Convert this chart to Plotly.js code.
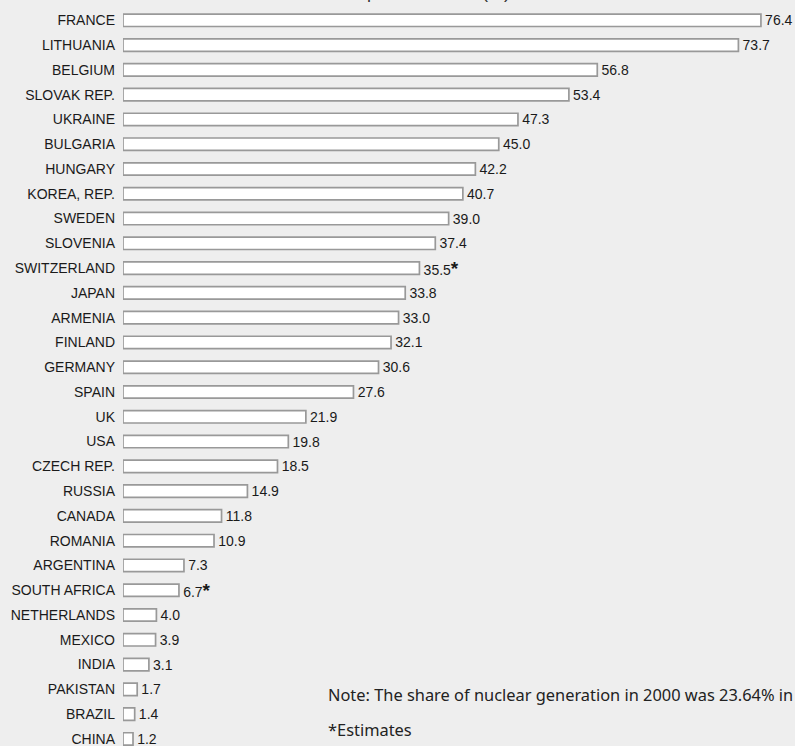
<!DOCTYPE html>
<html>
<head>
<meta charset="utf-8">
<script src="https://cdn.plot.ly/plotly-3.0.1.min.js"></script>
<style>
  html, body { margin: 0; padding: 0; background: #eeeeee; }
  #chart { width: 795px; height: 746px; }
</style>
</head>
<body>
<div id="chart"></div>
<script>
// Nuclear share of electricity generation by country, 2000
const countries = [
  "FRANCE", "LITHUANIA", "BELGIUM", "SLOVAK REP.", "UKRAINE", "BULGARIA",
  "HUNGARY", "KOREA, REP.", "SWEDEN", "SLOVENIA", "SWITZERLAND", "JAPAN",
  "ARMENIA", "FINLAND", "GERMANY", "SPAIN", "UK", "USA", "CZECH REP.",
  "RUSSIA", "CANADA", "ROMANIA", "ARGENTINA", "SOUTH AFRICA", "NETHERLANDS",
  "MEXICO", "INDIA", "PAKISTAN", "BRAZIL", "CHINA"
];
const nuclearShare = [
  76.4, 73.7, 56.8, 53.4, 47.3, 45.0,
  42.2, 40.7, 39.0, 37.4, 35.5, 33.8,
  33.0, 32.1, 30.6, 27.6, 21.9, 19.8, 18.5,
  14.9, 11.8, 10.9, 7.3, 6.7, 4.0,
  3.9, 3.1, 1.7, 1.4, 1.2
];
// Countries whose figure is an estimate
const estimated = ["SWITZERLAND", "SOUTH AFRICA"];

const titleText = "Nuclear share \u2014 percent share (%)";
const noteText = "Note: The share of nuclear generation in 2000 was 23.64% in";
const estimateText = "*Estimates";

const W = 795, H = 746;
const left = 123;
const rowPx = 24.78;         // vertical spacing between bars
const pxPerUnit = 8.35;      // horizontal scale
const firstRowCenter = 20.3; // pixel centre of the first bar

const sansFont = "'Liberation Sans', Arial, sans-serif";
const noteFont = "'Noto Sans', 'Open Sans', sans-serif";

const labels = nuclearShare.map((v, i) =>
  "\u200A" + v.toFixed(1) + (estimated.includes(countries[i])
    ? "<b><span style='font-size:19px'>*</span></b>" : ""));

const trace = {
  type: "bar",
  orientation: "h",
  y: countries,
  x: nuclearShare,
  text: labels,
  textposition: "outside",
  cliponaxis: false,
  constraintext: "none",
  textfont: { family: sansFont, size: 14, color: "#1a1a1a" },
  marker: { color: "#ffffff", line: { color: "#999999", width: 1.7 } },
  hoverinfo: "none"
};

const yTop = -firstRowCenter / rowPx;
const yBottom = yTop + H / rowPx;

const layout = {
  width: W,
  height: H,
  margin: { l: left, r: 0, t: 0, b: 0, pad: 0 },
  paper_bgcolor: "#eeeeee",
  plot_bgcolor: "#eeeeee",
  showlegend: false,
  bargap: 0.5,
  xaxis: {
    range: [0, (W - left) / pxPerUnit],
    showgrid: false, zeroline: false, showline: false,
    showticklabels: false, ticks: "", fixedrange: true
  },
  yaxis: {
    type: "category",
    range: [yBottom, yTop],
    showgrid: false, zeroline: false, showline: false,
    ticks: "",
    ticklabelstandoff: 7,
    tickfont: { family: sansFont, size: 14, color: "#1a1a1a" },
    fixedrange: true
  },
  annotations: [
    {
      text: titleText,
      xref: "paper", yref: "paper",
      x: (512 - left) / (W - left), xanchor: "right",
      y: 1 - 4.5 / H, yanchor: "bottom",
      showarrow: false,
      font: { family: sansFont, size: 18, color: "#333333" }
    },
    {
      text: noteText,
      xref: "paper", yref: "paper",
      x: (326 - left) / (W - left), xanchor: "left",
      y: 1 - 694.5 / H, yanchor: "middle",
      showarrow: false, align: "left",
      font: { family: noteFont, size: 16.4, color: "#222222" }
    },
    {
      text: estimateText,
      xref: "paper", yref: "paper",
      x: (326 - left) / (W - left), xanchor: "left",
      y: 1 - 729 / H, yanchor: "middle",
      showarrow: false, align: "left",
      font: { family: noteFont, size: 16.4, color: "#222222" }
    }
  ]
};

Plotly.newPlot("chart", [trace], layout, { displayModeBar: false, staticPlot: true });
</script>
</body>
</html>
